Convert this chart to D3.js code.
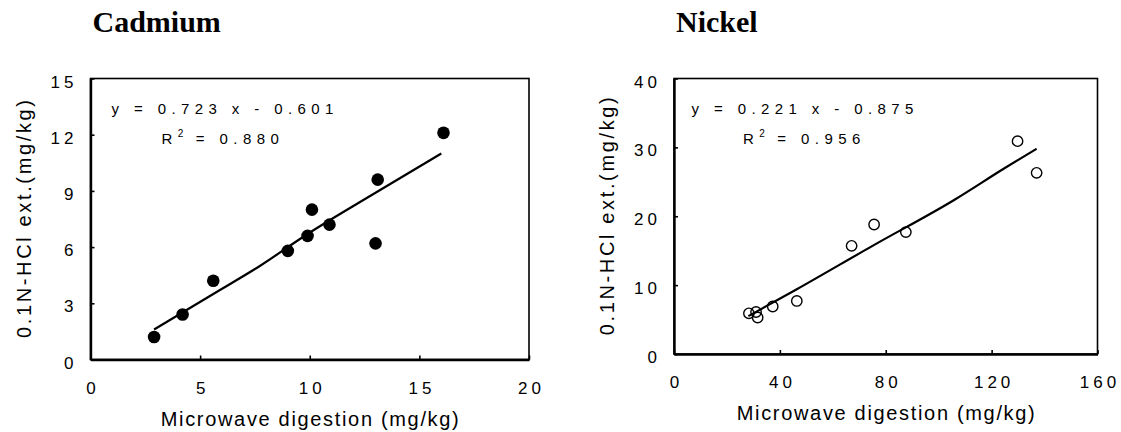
<!DOCTYPE html>
<html>
<head>
<meta charset="utf-8">
<script src="https://cdn.jsdelivr.net/npm/d3@7"></script>
<style>
  body { margin: 0; background: #fff; }
  text { fill: #000; }
</style>
</head>
<body>
<div id="chart"></div>
<script>
// data
var cdTicksX = [0, 5, 10, 15, 20];
var cdTicksY = [0, 3, 6, 9, 12, 15];
var cdX = [2.9, 4.2, 5.6, 9.0, 9.9, 10.1, 10.9, 13.0, 13.1, 16.1];
var cdY = [1.2, 2.4, 4.2, 5.8, 6.6, 8.0, 7.2, 6.2, 9.6, 12.1];
var cdFitX = [2.9, 5.6, 7.6, 9.9, 13.0, 16.0];
var cdFitY = [1.6, 3.5, 4.9, 6.7, 8.9, 11.0];

var niTicksX = [0, 40, 80, 120, 160];
var niTicksY = [0, 10, 20, 30, 40];
var niX = [28.3, 31.0, 31.6, 37.3, 46.4, 67.1, 75.6, 87.6, 129.8, 137.0];
var niY = [5.9, 6.1, 5.3, 6.9, 7.7, 15.7, 18.8, 17.7, 30.9, 26.3];
var niFitX = [28.1, 46.4, 75, 106, 125, 137];
var niFitY = [5.5, 9.4, 15.7, 22.4, 27.0, 29.8];

var titles = ["Cadmium", "Nickel"];
var equations = ["y = 0.723 x - 0.601", "y = 0.221 x - 0.875"];
var r2Values = ["0.880", "0.956"];
var xTitle = "Microwave digestion (mg/kg)";
var yTitle = "0.1N-HCl ext.(mg/kg)";

var svgWidth = 1121;
var svgHeight = 432;
var sans = "'Liberation Sans', Arial, sans-serif";

var svg = d3.select("#chart")
  .append("svg")
  .attr("width", svgWidth)
  .attr("height", svgHeight);

svg.append("rect")
  .attr("width", svgWidth)
  .attr("height", svgHeight)
  .attr("fill", "#fff");

// panel placement (pixels)
var panels = [
  { left: 90.5, right: 529, top: 78.5, bottom: 359.5, xs: cdX, ys: cdY, fx: cdFitX, fy: cdFitY,
    tx: cdTicksX, ty: cdTicksY, filled: true, eqX: 111.5, r2X: 161.5 },
  { left: 674, right: 1097.5, top: 78.5, bottom: 354, xs: niX, ys: niY, fx: niFitX, fy: niFitY,
    tx: niTicksX, ty: niTicksY, filled: false, eqX: 691.5, r2X: 743 }
];

panels.forEach(function(p, i) {
  var w = p.right - p.left;
  var h = p.bottom - p.top;

  var x = d3.scaleLinear()
    .domain([p.tx[0], p.tx[p.tx.length - 1]])
    .range([0, w]);
  var y = d3.scaleLinear()
    .domain([p.ty[0], p.ty[p.ty.length - 1]])
    .range([h, 0]);

  var g = svg.append("g")
    .attr("transform", `translate(${p.left}, ${p.top})`);

  // title
  svg.append("text")
    .attr("x", p.left + 2)
    .attr("y", 32)
    .attr("font-family", "'Liberation Serif', 'Times New Roman', serif")
    .attr("font-weight", "bold")
    .attr("font-size", 30)
    .text(titles[i]);

  // frame
  g.append("rect")
    .attr("width", w)
    .attr("height", h)
    .attr("fill", "none")
    .attr("stroke", "#000")
    .attr("stroke-width", 1.6);

  // axes with inward ticks
  var xAxis = g.append("g")
    .attr("transform", `translate(0, ${h})`)
    .call(d3.axisBottom(x).tickValues(p.tx).tickSizeInner(-4).tickSizeOuter(0).tickPadding(22));
  var yAxis = g.append("g")
    .call(d3.axisLeft(y).tickValues(p.ty).tickSizeInner(-4).tickSizeOuter(0).tickPadding(17));

  [xAxis, yAxis].forEach(function(a) {
    a.select(".domain").attr("stroke-width", 2.4);
    a.selectAll(".tick line").attr("stroke-width", 1.6);
    a.selectAll(".tick text")
      .attr("font-family", sans)
      .attr("font-size", 17)
      .attr("letter-spacing", "4px");
  });
  xAxis.selectAll(".tick text").attr("dx", "2px");
  yAxis.selectAll(".tick text").attr("dx", "4px").attr("dy", "0.5em");

  // axis titles
  svg.append("text")
    .attr("x", (p.left + p.right) / 2)
    .attr("y", p.bottom + 66)
    .attr("text-anchor", "middle")
    .attr("font-family", sans)
    .attr("font-size", 20)
    .attr("textLength", 298)
    .attr("lengthAdjust", "spacing")
    .text(xTitle);

  svg.append("text")
    .attr("transform", `translate(${p.left - 60}, ${(p.top + p.bottom) / 2}) rotate(-90)`)
    .attr("text-anchor", "middle")
    .attr("font-family", sans)
    .attr("font-size", 20)
    .attr("textLength", 238)
    .attr("lengthAdjust", "spacing")
    .text(yTitle);

  // fitted line
  var fit = p.fx.map(function(d, k) { return [d, p.fy[k]]; });
  var line = d3.line()
    .x(d => x(d[0]))
    .y(d => y(d[1]))
    .curve(d3.curveMonotoneX);
  g.append("path")
    .datum(fit)
    .attr("d", line)
    .attr("fill", "none")
    .attr("stroke", "#000")
    .attr("stroke-width", 2.2);

  // points
  var pts = p.xs.map(function(d, k) { return [d, p.ys[k]]; });
  g.selectAll("circle")
    .data(pts)
    .enter()
    .append("circle")
    .attr("cx", d => x(d[0]))
    .attr("cy", d => y(d[1]))
    .attr("r", p.filled ? 6.3 : 5.2)
    .attr("fill", p.filled ? "#000" : "#fff")
    .attr("fill-opacity", p.filled ? 1 : 0)
    .attr("stroke", "#000")
    .attr("stroke-width", p.filled ? 0 : 1.4);

  // regression text
  svg.append("text")
    .attr("x", p.eqX)
    .attr("y", 114)
    .attr("font-family", sans)
    .attr("font-size", 15)
    .attr("letter-spacing", "5.4px")
    .text(equations[i]);

  var r2 = svg.append("text")
    .attr("x", p.r2X)
    .attr("y", 143.5)
    .attr("font-family", sans)
    .attr("font-size", 15)
    .attr("letter-spacing", "5.4px");
  r2.append("tspan").text("R");
  r2.append("tspan")
    .attr("font-size", 10)
    .attr("dy", -7)
    .attr("letter-spacing", "3px")
    .text("2");
  r2.append("tspan")
    .attr("dy", 7)
    .text(" = " + r2Values[i]);
});
</script>
</body>
</html>
